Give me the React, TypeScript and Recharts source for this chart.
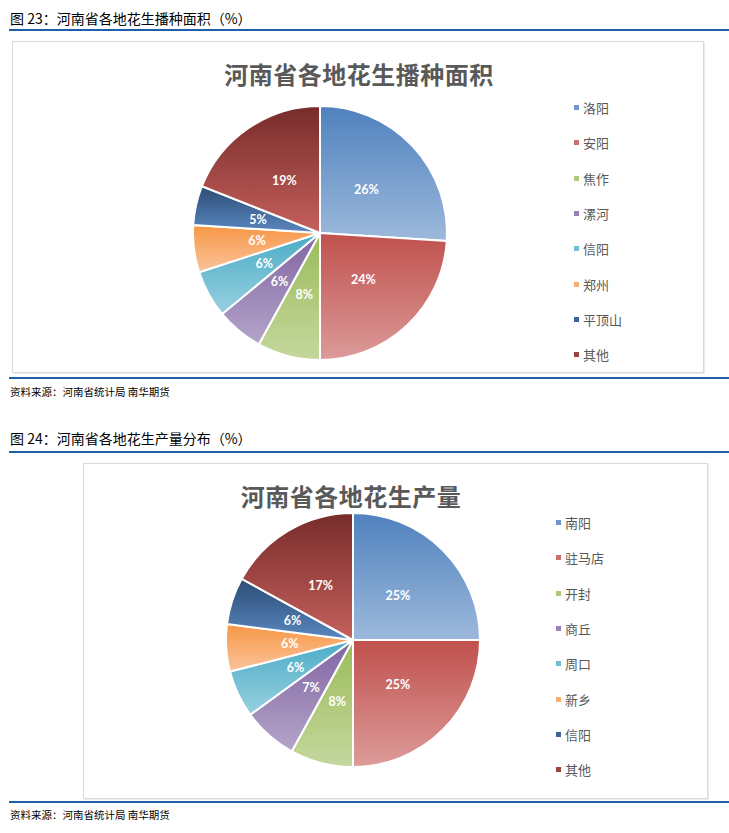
import React from 'react';
import { PieChart, Pie, Cell, Legend } from 'recharts';

const areaNames = ['洛阳', '安阳', '焦作', '漯河', '信阳', '郑州', '平顶山', '其他'];
const areaValues = [26, 24, 8, 6, 6, 6, 5, 19];

const outputNames = ['南阳', '驻马店', '开封', '商丘', '周口', '新乡', '信阳', '其他'];
const outputValues = [25, 25, 8, 7, 6, 6, 6, 17];

const topColors = ['#4f81bd', '#c0504d', '#9bbb59', '#8064a2', '#4bacc6', '#f79646', '#2c4d75', '#772c2a'];
const bottomColors = ['#9db9dc', '#dc9b99', '#c4d79e', '#b4a5c9', '#98d0e0', '#fbc49a', '#5a87c0', '#c5605d'];
const legendColors = ['#6f97cc', '#cd6f6c', '#afc97b', '#9983b6', '#6fbed3', '#f9ad70', '#3d6499', '#9b4441'];

const cjk = '"Noto Sans CJK SC", "Noto Sans", sans-serif';
const RAD = Math.PI / 180;

const renderLabel = (props: any) => {
  const { cx, cy, midAngle, outerRadius, value } = props;
  const r = outerRadius * 0.5;
  const x = cx + r * Math.cos(-midAngle * RAD);
  const y = cy + r * Math.sin(-midAngle * RAD);
  return (
    <text x={x} y={y} fill="#fff" textAnchor="middle" dominantBaseline="central"
      style={{ fontFamily: 'Lato, "Open Sans", sans-serif', fontWeight: 700, fontSize: 12.5 }}>
      {value}%
    </text>
  );
};

const makeLegend = (names: string[]) => () => (
  <div>
    {names.map((n, i) => (
      <div key={n} style={{ height: 35.3, display: 'flex', alignItems: 'center' }}>
        <span style={{ width: 5, height: 5, background: legendColors[i], marginRight: 4, display: 'inline-block' }} />
        <span style={{ fontFamily: cjk, fontSize: 13, color: '#595959' }}>{n}</span>
      </div>
    ))}
  </div>
);

const Gradients = ({ prefix }: { prefix: string }) => (
  <defs>
    {topColors.map((c, i) => (
      <linearGradient key={i} id={`${prefix}${i}`} x1="0" y1="0" x2="0" y2="1">
        <stop offset="0%" stopColor={c} />
        <stop offset="100%" stopColor={bottomColors[i]} />
      </linearGradient>
    ))}
  </defs>
);

interface PieBoxProps {
  names: string[];
  values: number[];
  title: string;
  prefix: string;
  width: number;
  height: number;
  cx: number;
  cy: number;
  titleX: number;
  legendLeft: number;
  legendTop: number;
}

const PieBox: React.FC<PieBoxProps> = ({ names, values, title, prefix, width, height, cx, cy, titleX, legendLeft, legendTop }) => {
  const data = names.map((n, i) => ({ name: n, value: values[i] }));
  return (
    <PieChart width={width} height={height} margin={{ top: 0, right: 0, bottom: 0, left: 0 }}>
      <Gradients prefix={prefix} />
      <text x={titleX} y={31} textAnchor="middle" dominantBaseline="central" fill="#595959"
        style={{ fontFamily: cjk, fontWeight: 700, fontSize: 24, letterSpacing: 0.5 }}>
        {title}
      </text>
      <Pie data={data} dataKey="value" nameKey="name" cx={cx} cy={cy} outerRadius={127}
        startAngle={90} endAngle={-270} stroke="#fff" strokeWidth={2}
        label={renderLabel} labelLine={false} isAnimationActive={false}>
        {data.map((d, i) => (
          <Cell key={d.name} fill={`url(#${prefix}${i})`} />
        ))}
      </Pie>
      <Legend layout="vertical" content={makeLegend(names)}
        wrapperStyle={{ left: legendLeft, top: legendTop, width: 100 }} />
    </PieChart>
  );
};

const Heading = ({ text, top }: { text: string; top: number }) => (
  <div style={{ position: 'absolute', left: 10, top, fontFamily: cjk, fontSize: 14, color: '#000', lineHeight: '18px' }}>
    {text}
  </div>
);

const Source = ({ top }: { top: number }) => (
  <div style={{ position: 'absolute', left: 10, top, fontFamily: cjk, fontSize: 10.5, color: '#000', lineHeight: '14px' }}>
    资料来源：河南省统计局 南华期货
  </div>
);

const Rule = ({ top }: { top: number }) => (
  <div style={{ position: 'absolute', left: 9, top, width: 720, height: 2, background: '#1f5fa8' }} />
);

export default function App() {
  return (
    <div style={{ position: 'absolute', left: 0, top: 0, width: 729, height: 833, background: '#fff', overflow: 'hidden' }}>
      <Heading text="图 23：河南省各地花生播种面积（%）" top={9} />
      <Rule top={29} />
      <div style={{ position: 'absolute', left: 12, top: 41, width: 690, height: 330, border: '1px solid #d9d9d9', boxShadow: '1px 1px 0 #ececec' }}>
        <PieBox names={areaNames} values={areaValues} title="河南省各地花生播种面积" prefix="ga"
          width={690} height={330} cx={307} cy={191} titleX={346} legendLeft={561} legendTop={48} />
      </div>
      <Rule top={377} />
      <Source top={385} />
      <Heading text="图 24：河南省各地花生产量分布（%）" top={429} />
      <Rule top={451} />
      <div style={{ position: 'absolute', left: 83, top: 463, width: 623, height: 334, border: '1px solid #d9d9d9', boxShadow: '1px 1px 0 #ececec' }}>
        <PieBox names={outputNames} values={outputValues} title="河南省各地花生产量" prefix="gb"
          width={623} height={334} cx={269} cy={176} titleX={267} legendLeft={472} legendTop={41} />
      </div>
      <Rule top={801} />
      <Source top={808} />
    </div>
  );
}
